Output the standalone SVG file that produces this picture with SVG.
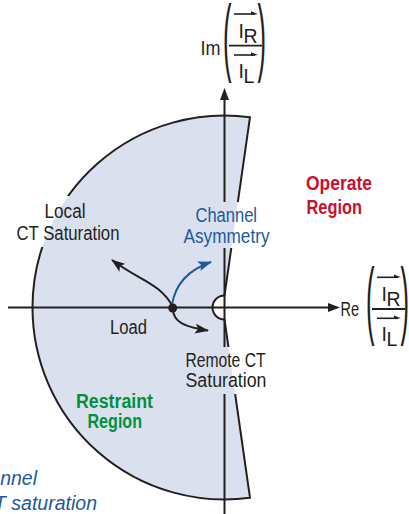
<svg xmlns="http://www.w3.org/2000/svg" width="409" height="514" viewBox="0 0 409 514">
<style>
.lbl{font-family:"Liberation Sans",Arial,sans-serif;font-size:19.5px;fill:#231f20}
.b{font-weight:bold}
.red{fill:#c8102e}
.grn{fill:#00913f}
.blu{fill:#1c5a9c}
.it{font-style:italic}
.ln{fill:none;stroke:#231f20;stroke-width:2}
.par{font-family:"Liberation Sans",Arial,sans-serif;font-size:85px;fill:#231f20}
.sym{font-family:"Liberation Sans",Arial,sans-serif;font-size:19.5px;fill:#231f20}
</style>
<defs>
<marker id="ah" markerUnits="userSpaceOnUse" viewBox="0 0 14 10" markerWidth="14" markerHeight="10" refX="13" refY="5" orient="auto"><path d="M0,0 L14,5 L0,10 L3,5 Z" fill="#231f20"/></marker>
<marker id="ahb" markerUnits="userSpaceOnUse" viewBox="0 0 14 10" markerWidth="14" markerHeight="10" refX="13" refY="5" orient="auto"><path d="M0,0 L14,5 L0,10 L3,5 Z" fill="#1c5a9c"/></marker>
<mask id="knock" maskUnits="userSpaceOnUse" x="0" y="0" width="409" height="514">
<rect width="409" height="514" fill="#fff"/>
<rect x="40" y="196" width="50" height="26" fill="#000"/>
<rect x="12" y="221" width="112" height="26" fill="#000"/>
<rect x="181" y="202" width="92" height="46" fill="#000"/>
<rect x="181" y="347" width="89" height="47" fill="#000"/>
</mask>
<g id="frac">
<text class="par" transform="translate(-2,19.3) scale(0.3,1)">(</text>
<text class="par" transform="translate(32.5,19.3) scale(0.3,1)">)</text>
<line x1="4" y1="0" x2="37" y2="0" stroke="#231f20" stroke-width="1.8"/>
<line x1="9" y1="-31.7" x2="30" y2="-31.7" stroke="#231f20" stroke-width="1.6"/>
<polygon points="26,-34.5 33,-31.7 26,-30.9" fill="#231f20"/>
<text class="sym" x="13.5" y="-7.7">I</text>
<text class="sym" x="18.5" y="-2.7">R</text>
<line x1="9" y1="9.3" x2="30" y2="9.3" stroke="#231f20" stroke-width="1.6"/>
<polygon points="26,6.5 33,9.3 26,10.1" fill="#231f20"/>
<text class="sym" x="13.5" y="32.3">I</text>
<text class="sym" x="18.5" y="37.3">L</text>
</g>
</defs>

<rect width="409" height="514" fill="#fff"/>

<g id="restraint-region">
<path d="M250,117.2 A192,192 0 1 0 250,497.8 L224.5,319.5 A12,12 0 0 1 224.5,295.5 Z" fill="#dbe0ee"/>
</g>

<g id="connectors">
<g mask="url(#knock)">
<path class="ln" d="M250,117.2 A192,192 0 1 0 250,497.8 L224.5,319.5 A12,12 0 0 1 224.5,295.5 Z"/>
<line class="ln" x1="224.5" y1="99" x2="224.5" y2="514"/>
<line class="ln" x1="8" y1="307.5" x2="329" y2="307.5"/>
</g>
<polygon points="224.5,88 220,100 229,100" fill="#231f20"/>
<polygon points="340,307.5 328,303 328,312" fill="#231f20"/>
<path class="ln" d="M173,307 C160,283 140,281 112,260" marker-end="url(#ah)"/>
<path d="M172,305 C175,285 188,270 211,262" fill="none" stroke="#1c5a9c" stroke-width="2" marker-end="url(#ahb)"/>
<path class="ln" d="M173,309 C173,322 185,327 208,330.5" marker-end="url(#ah)"/>
</g>

<g id="load-point">
<circle cx="172.7" cy="308" r="4.5" fill="#231f20"/>
<text class="lbl" x="110" y="334.3" textLength="37" lengthAdjust="spacingAndGlyphs">Load</text>
</g>

<g id="im-axis-label">
<text class="sym" x="200.5" y="55" textLength="20" lengthAdjust="spacingAndGlyphs">Im</text>
<use href="#frac" transform="translate(225,45.7)"/>
</g>

<g id="re-axis-label">
<text class="sym" x="340.5" y="316" textLength="18.5" lengthAdjust="spacingAndGlyphs">Re</text>
<use href="#frac" transform="translate(368,309)"/>
</g>

<g id="local-ct">
<text class="lbl" x="44.5" y="218" textLength="41" lengthAdjust="spacingAndGlyphs">Local</text>
<text class="lbl" x="16.5" y="240" textLength="103" lengthAdjust="spacingAndGlyphs">CT Saturation</text>
</g>

<g id="channel-asymmetry">
<text class="lbl blu" x="195.5" y="221.7" textLength="61.5" lengthAdjust="spacingAndGlyphs">Channel</text>
<text class="lbl blu" x="183.5" y="243.3" textLength="86" lengthAdjust="spacingAndGlyphs">Asymmetry</text>
</g>

<g id="operate-region">
<text class="lbl b red" x="306" y="190" textLength="66" lengthAdjust="spacingAndGlyphs">Operate</text>
<text class="lbl b red" x="306.5" y="213.5" textLength="55.5" lengthAdjust="spacingAndGlyphs">Region</text>
</g>

<g id="restraint-label">
<text class="lbl b grn" x="76" y="408.3" textLength="77" lengthAdjust="spacingAndGlyphs">Restraint</text>
<text class="lbl b grn" x="87.5" y="428" textLength="54.5" lengthAdjust="spacingAndGlyphs">Region</text>
</g>

<g id="remote-ct">
<text class="lbl" x="185.5" y="367.3" textLength="80" lengthAdjust="spacingAndGlyphs">Remote CT</text>
<text class="lbl" x="185.5" y="386.7" textLength="81" lengthAdjust="spacingAndGlyphs">Saturation</text>
</g>

<g id="legend-cut">
<text class="lbl blu it" x="37" y="485" text-anchor="end" font-size="20">nnel</text>
<text class="lbl blu it" x="97" y="510" text-anchor="end" font-size="20">T saturation</text>
</g>
</svg>
